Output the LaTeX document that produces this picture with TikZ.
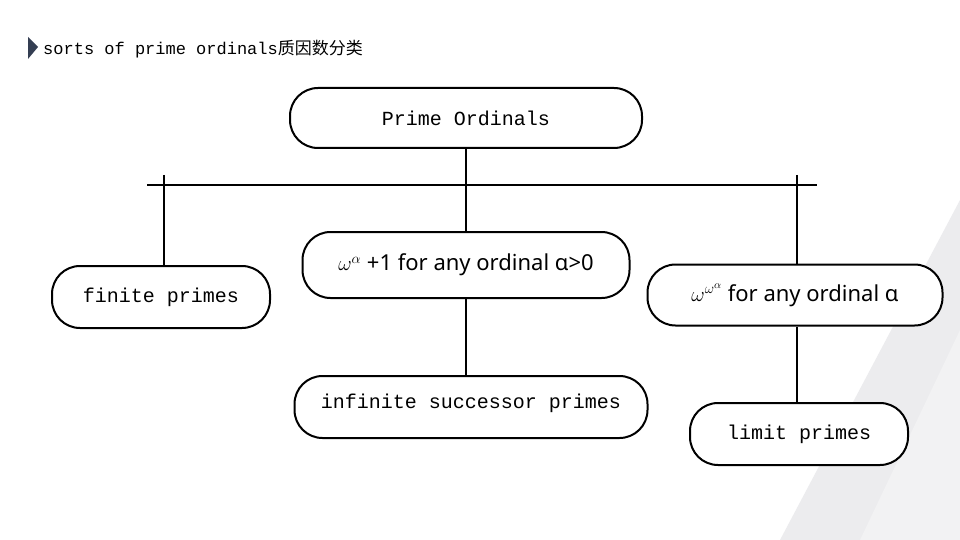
\documentclass[tikz,border=0pt]{standalone}
\usepackage{fontspec}
\setmonofont{Liberation Mono}
\setsansfont{Noto Sans}
\newfontfamily\cjk{Noto Sans CJK SC}
\usetikzlibrary{positioning}
\begin{document}
\begin{tikzpicture}[x=1pt,y=-1pt,
  box/.style={draw=black, line width=2pt, rounded corners=28pt, fill=white, font=\ttfamily\fontsize{20}{24}\selectfont},
  mathbox/.style={box, font=\sffamily\fontsize{22}{26}\selectfont},
  link/.style={line width=2.4pt}]
%Define all colors here.
\definecolor{bgshade}{RGB}{236,236,238}
\definecolor{markfill}{RGB}{52,62,82}
\useasboundingbox (0,0) rectangle (960,540);
\fill[white] (0,0) rectangle (960,540);
\fill[bgshade] (960,200) -- (960,540) -- (780,540) -- cycle;
\fill[bgshade!70] (960,330) -- (960,540) -- (860,540) -- cycle;

\fill[markfill] (28,37) -- (38,47) -- (28,59) -- cycle;
\node(title) at (43,49) [anchor=west, inner sep=0pt, font=\ttfamily\fontsize{17}{20}\selectfont] {sorts of prime ordinals{\cjk 质因数分类}};

\node(PO) at (466,118) [box, minimum width=352pt, minimum height=60pt] {Prime Ordinals};
\node(FP) at (161,297) [box, minimum width=218pt, minimum height=62pt] {finite primes};
\node(SU) at (466,265) [mathbox, minimum width=327pt, minimum height=66pt] {$\omega^{\alpha}$ +1 for any ordinal α>0};
\node(LI) at (795,295) [mathbox, minimum width=295pt, minimum height=61pt] {$\omega^{\omega^{\alpha}}$ for any ordinal α};
\node(IS) at (471,407) [box, minimum width=353pt, minimum height=62pt, text depth=12pt] {infinite successor primes};
\node(LP) at (799,434) [box, minimum width=218pt, minimum height=62pt] {limit primes};

\coordinate(barL) at (147,185);
\coordinate(barR) at (817,185);
\coordinate(tapL) at (164,175);
\coordinate(tapR) at (797,175);
\draw[link] (barL) -- (barR);
\draw[link] (PO.south) -- (SU.north);
\draw[link] (tapL) -- (tapL |- FP.north);
\draw[link] (tapR) -- (tapR |- LI.north);
\draw[link] (SU.south) -- (SU.south |- IS.north);
\draw[link] (LI.south -| tapR) -- (tapR |- LP.north);
\end{tikzpicture}
\end{document}
